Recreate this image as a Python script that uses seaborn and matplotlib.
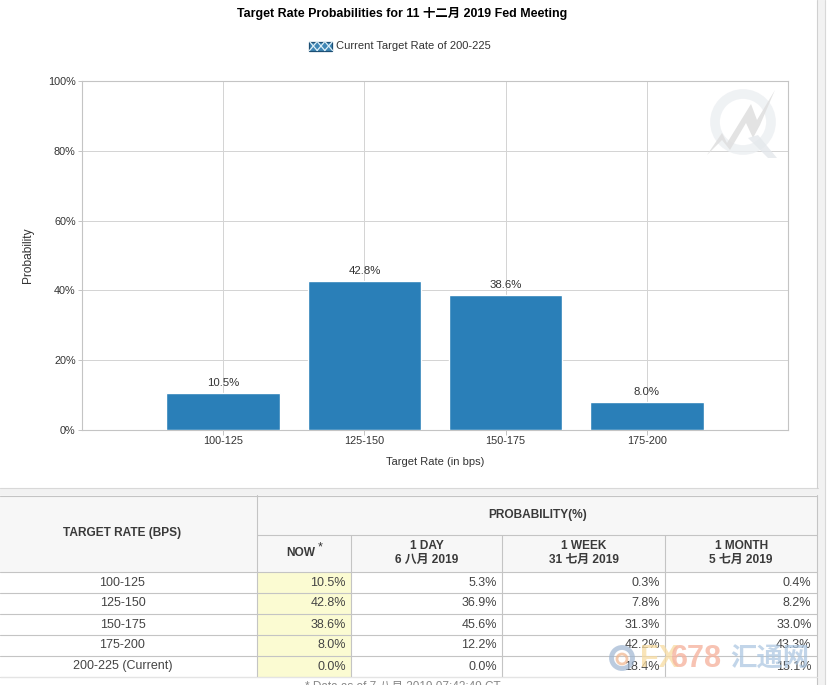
import matplotlib
matplotlib.use("Agg")
import logging
import matplotlib.pyplot as plt
import pandas as pd
import seaborn as sns
from matplotlib.patches import Circle, Polygon, Rectangle

logging.getLogger("matplotlib.font_manager").setLevel(logging.ERROR)

categories = ["100-125", "125-150", "150-175", "175-200"]
probabilities = [10.5, 42.8, 38.6, 8.0]
y_ticks = [0, 20, 40, 60, 80, 100]

row_labels = ["100-125", "125-150", "150-175", "175-200", "200-225 (Current)"]
col_now = ["10.5%", "42.8%", "38.6%", "8.0%", "0.0%"]
col_day = ["5.3%", "36.9%", "45.6%", "12.2%", "0.0%"]
col_week = ["0.3%", "7.8%", "31.3%", "42.2%", "18.4%"]
col_month = ["0.4%", "8.2%", "33.0%", "43.3%", "15.1%"]
col_heads = ["1 DAY\n6 八月 2019", "1 WEEK\n31 七月 2019", "1 MONTH\n5 七月 2019"]

sns.set_theme(style="white")
plt.rcParams["font.family"] = ["Liberation Sans", "Noto Sans CJK SC", "DejaVu Sans"]

BLUE = "#2a7fb8"
GRID = "#d4d4d4"
LINE = "#c4c4c4"
TEXT = "#333333"

W, H = 828, 695
fig = plt.figure(figsize=(W / 100, H / 100), dpi=100, facecolor="white")


def pixel_axes(zorder):
    """Full-figure axes whose data units are image pixels."""
    a = fig.add_axes([0, 0, 1, 1], zorder=zorder)
    a.set_xlim(0, W)
    a.set_ylim(H, 0)
    a.axis("off")
    return a


bg = pixel_axes(0)

# chart
ax = fig.add_axes([82 / W, 1 - 430 / H, (788 - 82) / W, (430 - 81) / H], zorder=2)
ax.patch.set_alpha(0)
df = pd.DataFrame({"rate": categories, "prob": probabilities})
sns.barplot(data=df, x="rate", y="prob", color=BLUE, saturation=1, width=0.805, ax=ax, zorder=3)
ax.set_xlim(-1, 4)
ax.set_ylim(0, 100)
ax.set_yticks(y_ticks)
ax.set_yticklabels([f"{t}%" for t in y_ticks], fontsize=7.8, color=TEXT)
ax.set_xticks(range(len(categories)))
ax.set_xticklabels(categories, fontsize=7.8, color=TEXT)
ax.grid(True, color=GRID, linewidth=0.72, zorder=0)
ax.set_axisbelow(True)
ax.tick_params(axis="y", length=3, width=0.72, color=LINE, pad=1.5, left=True)
ax.tick_params(axis="x", length=3.5, width=0.72, color=LINE, pad=1, bottom=True)
for side in ["top", "right", "left", "bottom"]:
    ax.spines[side].set_color(LINE)
    ax.spines[side].set_linewidth(0.8)
ax.set_xlabel("Target Rate (in bps)", fontsize=8, color=TEXT, va="center")
ax.xaxis.set_label_coords(0.5, -(462 - 430) / 349)
ax.set_ylabel("Probability", fontsize=8.6, color=TEXT, va="center")
ax.yaxis.set_label_coords((28 - 82) / 706, 0.5)
for i, v in enumerate(probabilities):
    ax.annotate(f"{v}%", (i, v), xytext=(0, 3.5), textcoords="offset points",
                ha="center", va="bottom", fontsize=8.2, color=TEXT)

# title and legend
fig.text(402 / W, 1 - 13 / H, "Target Rate Probabilities for 11 十二月 2019 Fed Meeting",
         ha="center", va="center", fontsize=8.9, fontweight="bold", color="black")
bg.add_patch(Rectangle((309.5, 41.5), 23, 9, facecolor="#3f86b5", edgecolor="none"))
for k in range(3):
    x0 = 309.5 + k * 23 / 3
    bg.plot([x0, x0 + 23 / 3], [41.5, 50.5], color="#dff0f8", lw=0.9)
    bg.plot([x0, x0 + 23 / 3], [50.5, 41.5], color="#dff0f8", lw=0.9)
bg.add_patch(Rectangle((309.5, 41.5), 23, 9, fill=False, edgecolor="#1d4f74", linewidth=0.9))
bg.text(336, 46, "Current Target Rate of 200-225", fontsize=8, color=TEXT, va="center")

# Q watermark in the chart corner
wm = pixel_axes(3)
wm.add_patch(Circle((743, 122), 28, fill=False, edgecolor="#eceff2", linewidth=7, alpha=0.8))
wm.add_patch(Polygon([(707, 155), (722, 133), (727, 143), (751, 104), (757, 120), (775, 90),
                      (760, 125), (753, 138), (746, 123), (730, 150), (722, 140)],
                     facecolor="#e0e0e0", edgecolor="none", alpha=0.9))
wm.add_patch(Polygon([(748, 138), (758, 135), (777, 158), (768, 158)],
                     facecolor="#e4e8ec", edgecolor="none", alpha=0.8))

# page bands
bg.add_patch(Rectangle((0, 488), 818, 7, facecolor="#f2f2f2", edgecolor="none"))
bg.plot([0, 818], [488, 488], color="#d8d8d8", lw=0.8)
bg.plot([817.5, 817.5], [0, 488], color="#d0d0d0", lw=0.8)
bg.add_patch(Rectangle((818, 0), 7, 685, facecolor="#f2f2f2", edgecolor="none"))
bg.plot([825, 825], [0, 685], color="#d8d8d8", lw=0.8)

# table
col_x = [257.5, 351.5, 502.5, 665.5, 817]
row_y = [571.5, 592.5, 613.5, 634.5, 655.5, 676.5]
bg.add_patch(Rectangle((0, 495), 817, 76.5, facecolor="#f7f7f7", edgecolor="none"))
bg.add_patch(Rectangle((col_x[0], row_y[0]), col_x[1] - col_x[0], row_y[-1] - row_y[0],
                       facecolor="#fbfbd2", edgecolor="none"))
bg.plot([0, 817], [495.5, 495.5], color=LINE, lw=0.8)
bg.plot([col_x[0], 817], [534.5, 534.5], color=LINE, lw=0.8)
for y in row_y:
    bg.plot([0, 817], [y, y], color=LINE, lw=0.8)
bg.plot([col_x[0]] * 2, [495, row_y[-1]], color=LINE, lw=0.8)
for x in col_x[1:4]:
    bg.plot([x, x], [534.5, row_y[-1]], color=LINE, lw=0.8)
bg.plot([817, 817], [495, 685], color=LINE, lw=0.8)

head = dict(fontsize=8.6, color="#3a3a3a", fontweight="bold", ha="center", va="center")
bg.text(122.5, 533, "TARGET RATE (BPS)", **head)
bg.text(538, 515, "PROBABILITY(%)", **head)
bg.text(300.5, 552.5, "NOW", **head)
bg.text(320.5, 547, "*", fontsize=9, color=TEXT, ha="center", va="center")
for i, label in enumerate(col_heads):
    bg.text((col_x[i + 1] + col_x[i + 2]) / 2, 553, label, linespacing=1.3, **head)

for r, label in enumerate(row_labels):
    y = (row_y[r] + row_y[r + 1]) / 2 + 0.5
    bg.text(122.5, y, label, fontsize=9, color="#444444", ha="center", va="center")
    row_cols = [col_now[r], col_day[r], col_week[r], col_month[r]]
    for c, val in enumerate(row_cols):
        bg.text(col_x[c + 1] - 5.5, y, val, fontsize=9, color="#444444", ha="right", va="center")

# footnote, cut off by the screenshot edge
bg.text(403, 686.5, "* Data as of 7 八月 2019 07:42:49 CT", fontsize=8.5, color="#888888",
        ha="center", va="center")
bg.add_patch(Rectangle((0, 685), W, 10, facecolor="white", edgecolor="none", zorder=6))
bg.plot([0, 817], [677, 677], color="#e4e4e4", lw=0.8)

# fx678 watermark over the table
top = pixel_axes(4)
narrow = ["Liberation Sans Narrow", "Liberation Sans"]
top.add_patch(Circle((622, 658), 10.5, fill=False, edgecolor="#9fb6d2", linewidth=3.5, alpha=0.7))
top.add_patch(Circle((622, 659), 5, fill=False, edgecolor="#f0b48c", linewidth=2, alpha=0.7))
top.text(679, 659, "FX", fontsize=22, fontweight="bold", family=narrow, color="#f7dca0", alpha=0.75,
         ha="right", va="center")
top.text(722, 659, "678", fontsize=22, fontweight="bold", family=narrow, color="#f6b4a0", alpha=0.8,
         ha="right", va="center")
top.text(770, 659, "汇通网", fontsize=19, fontweight="bold", family="Noto Sans CJK SC", color="#a8c4e0",
         alpha=0.7, ha="center", va="center")

fig.savefig("out.png", dpi=100)
